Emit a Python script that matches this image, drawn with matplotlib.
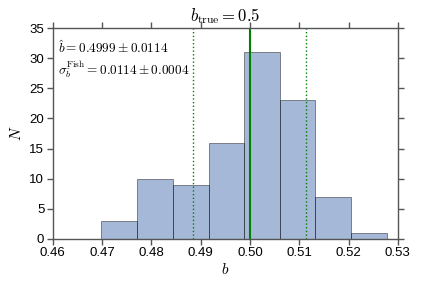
import matplotlib
matplotlib.use("Agg")
import matplotlib.pyplot as plt
import numpy as np

plt.rcParams["font.family"] = ["Liberation Sans", "DejaVu Sans"]
plt.rcParams["mathtext.fontset"] = "cm"

# histogram of fitted b values
bin_edges = [0.4698, 0.4771, 0.4844, 0.4917, 0.4989, 0.5061, 0.5133, 0.5205, 0.5277]
counts = [3, 10, 9, 16, 31, 23, 7, 1]
b_true = 0.5
b_hat, b_err = 0.4999, 0.0114
sig_fish, sig_fish_err = 0.0114, 0.0004

fig, ax = plt.subplots(figsize=(4.21, 2.9), dpi=100)
fig.subplots_adjust(left=0.125, right=0.945, top=0.903, bottom=0.176)

edges = np.array(bin_edges)
ax.bar(edges[:-1], counts, width=np.diff(edges), align="edge",
       color="#4c72b0", alpha=0.5, edgecolor="black", linewidth=0.6)

ax.axvline(b_true, color="green", lw=1.5)
ax.axvline(b_hat - b_err, color="green", lw=1, ls=":")
ax.axvline(b_hat + b_err, color="green", lw=1, ls=":")

ax.text(0.015, 0.945, r"$\hat{b} = %.4f \pm %.4f$" % (b_hat, b_err),
        transform=ax.transAxes, ha="left", va="top", fontsize=9.5)
ax.text(0.015, 0.855, r"$\sigma_{\hat{b}}^{\rm Fish} = %.4f \pm %.4f$" % (sig_fish, sig_fish_err),
        transform=ax.transAxes, ha="left", va="top", fontsize=9.5)

ax.set_title(r"$b_{\rm true} = %.1f$" % b_true, fontsize=12, pad=5)
ax.set_xlabel(r"$b$", fontsize=11, labelpad=2)
ax.set_ylabel(r"$N$", fontsize=11)

ax.set_xlim(0.46, 0.53)
ax.set_ylim(0, 35)
ax.set_xticks(np.arange(0.46, 0.5301, 0.01))
ax.set_xticklabels(["0.46", "0.47", "0.48", "0.49", "0.50", "0.51", "0.52", "0.53"])
ax.set_yticks(range(0, 36, 5))

for s in ax.spines.values():
    s.set_color("#555555")
    s.set_linewidth(1.0)
ax.tick_params(direction="out", length=4, width=1, color="#555555",
               top=True, right=True, labelsize=9.5, pad=2)

fig.savefig("out.png", dpi=100)
